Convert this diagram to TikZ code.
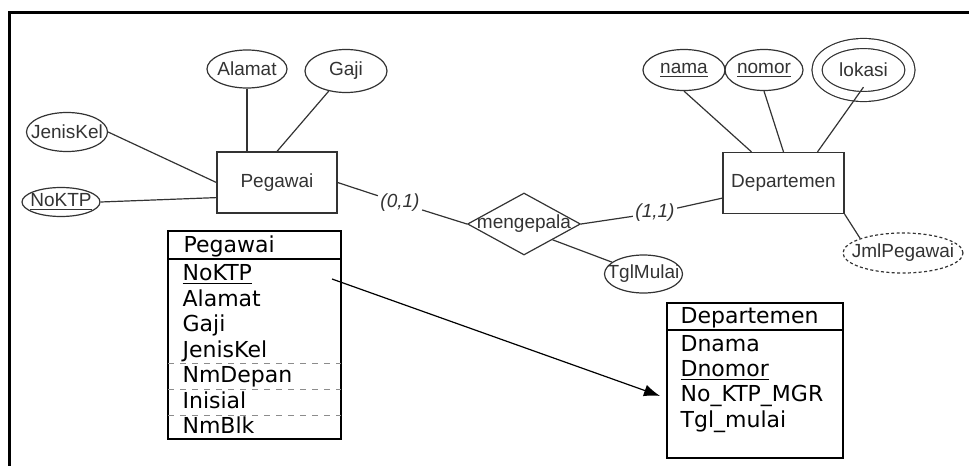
\documentclass[tikz,border=0pt]{standalone}
\usepackage{fontspec}
\setmainfont{Liberation Sans}
\newfontfamily\tabfont{DejaVu Sans}
\usetikzlibrary{shapes.geometric,arrows.meta}

\begin{document}
\begin{tikzpicture}[x=0.5pt, y=-0.5pt, line width=0.6pt, color=black!80,
  er/.style = {font=\fontsize{9.5}{11}\selectfont},
  ent/.style = {draw, er, minimum width=60pt, minimum height=30.5pt},
  attr/.style = {draw, ellipse, inner sep=0pt, label={[er]center:#1}},
  rel/.style = {draw, diamond, inner sep=0pt, minimum width=56.5pt, minimum height=31pt, label={[er]center:#1}},
  card/.style = {font=\fontsize{9.5}{11}\selectfont\itshape, inner sep=1pt},
  row/.style = {anchor=base west, inner sep=0pt, text=black, font=\tabfont\fontsize{11}{13}\selectfont},
  tab/.style = {draw=black, line width=0.8pt},
  sep/.style = {draw=black!45, dashed, line width=0.4pt}]
\useasboundingbox (0,0) rectangle (970,466);
\draw[black, line width=1.3pt] (9.5,466) -- (9.5,12.5) -- (969,12.5);

\node[ent] (peg) at (277,182.5) {Pegawai};
\node[ent, minimum width=60.5pt] (dept) at (783.5,183) {Departemen};
\node[attr=Alamat, minimum width=40pt, minimum height=19pt] (alamat) at (247,69) {};
\node[attr=Gaji, minimum width=41pt, minimum height=21.5pt] (gaji) at (346,71) {};
\node[attr=JenisKel, minimum width=40.5pt, minimum height=19.5pt] (jenis) at (67,132) {};
\node[attr=\underline{NoKTP}, minimum width=39pt, minimum height=14.5pt] (noktp) at (61,202) {};
\node[attr=\underline{nama}, minimum width=41pt, minimum height=20.5pt] (nama) at (684,70) {};
\node[attr=\underline{nomor}, minimum width=39pt, minimum height=20.5pt] (nomor) at (764,70) {};
\node[attr=lokasi, double, double distance=4.4pt, minimum width=46.5pt, minimum height=26.5pt] (lokasi) at (863.5,70) {};
\node[rel=mengepala] (kepala) at (524,224) {};
\node[attr=TglMulai, minimum width=39pt, minimum height=19pt] (tgl) at (643.5,274) {};
\node[attr=JmlPegawai, dash pattern=on 1.5pt off 1.2pt, minimum width=60pt, minimum height=20pt] (jml) at (903,253) {};
\node[card] (c01) at (400,203) {(0,1)};
\node[card] (c11) at (655,213) {(1,1)};

\draw (alamat.south) -- (alamat.south |- peg.north);
\draw (gaji) -- (peg.north);
\draw (jenis.east) -- (peg.west);
\draw (noktp.east) -- ([yshift=8pt]peg.south west);
\draw (peg.east) -- (c01);
\draw (c01) -- (kepala.west);
\draw (kepala.east) -- (c11);
\draw (c11) -- ([yshift=8pt]dept.south west);
\draw (kepala.south east) -- (tgl);
\draw (nama.south) -- ([xshift=-16pt]dept.north);
\draw (nomor.south) -- (dept.north);
\draw ([yshift=5pt]lokasi.south) -- ([xshift=17pt]dept.north);
\draw (dept.south east) -- (jml.north west);

\draw[tab] (168,231) rectangle (341,439);
\draw[tab] (168,259) -- (341,259);
\draw[sep] (168,363) -- (341,363);
\draw[sep] (168,389) -- (341,389);
\draw[sep] (168,415) -- (341,415);
\node[row] (pHead) at (183,252) {Pegawai};
\node[row] (pNoKTP) at (182,280.5) {\underline{NoKTP}};
\node[row] (pAlamat) at (182,306) {Alamat};
\node[row] (pGaji) at (182,331.5) {Gaji};
\node[row] (pJenis) at (182,357) {JenisKel};
\node[row] (pDepan) at (182,382.5) {NmDepan};
\node[row] (pInisial) at (182,408) {Inisial};
\node[row] (pBlk) at (182,433.5) {NmBlk};

\draw[tab] (667,303) rectangle (843,458);
\draw[tab] (667,330) -- (843,330);
\node[row] (dHead) at (680,323) {Departemen};
\node[row] (dNama) at (680,351) {Dnama};
\node[row] (dNomor) at (680,376) {\underline{Dnomor}};
\node[row] (dMgr) at (680,401.5) {No\_KTP\_MGR};
\node[row] (dMulai) at (680,427) {Tgl\_mulai};

\coordinate (fk) at (332,279);
\draw[black, -{Latex[length=8pt,width=6pt]}] (fk) -- ([xshift=-10pt]dMgr.west);
\end{tikzpicture}
\end{document}
